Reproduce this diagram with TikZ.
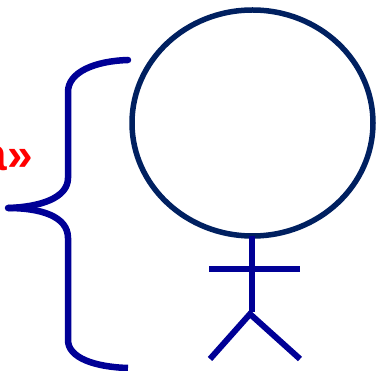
\documentclass[tikz,border=0pt]{standalone}
\usepackage{fontspec}
\setmainfont{Liberation Sans}
\definecolor{bracecol}{RGB}{0,0,150}
\definecolor{headcol}{RGB}{0,32,96}
\tikzset{
  brace/.style={draw=bracecol,line width=6.5pt,line join=round},
  limb/.style={draw=bracecol,line width=6pt},
  head/.style={draw=headcol,line width=5.5pt},
  quote/.style={text=red,font=\bfseries\fontsize{46}{46}\selectfont,inner sep=0pt}
}
\begin{document}
\begin{tikzpicture}[x=1pt,y=-1pt]
\useasboundingbox (0,0) rectangle (377,371);
\clip (0,0) rectangle (377,371);
\draw[head] (252.5,123) ellipse [x radius=120.5,y radius=113];
\draw[brace,line cap=round] (8,208) .. controls (40,207) and (68,198) .. (68,178) -- (68,92) .. controls (68,72) and (95,61) .. (128,60);
\draw[brace] (8,208) .. controls (40,208) and (68,216) .. (68,238) -- (68,340) .. controls (68,358) and (95,367) .. (128,368);
\coordinate (neck) at (252,236);
\coordinate (hip) at (252,312);
\coordinate (handL) at (209,269);
\coordinate (handR) at (300,269);
\coordinate (crotch) at (250,314);
\coordinate (footL) at (210,359);
\coordinate (footR) at (300,359);
\draw[limb] (neck) -- (hip);
\draw[limb] (handL) -- (handR);
\draw[limb,line join=miter] (footL) -- (crotch) -- (footR);
\node[quote,anchor=east] (label) at (33,158.5) {a»};
\end{tikzpicture}
\end{document}
